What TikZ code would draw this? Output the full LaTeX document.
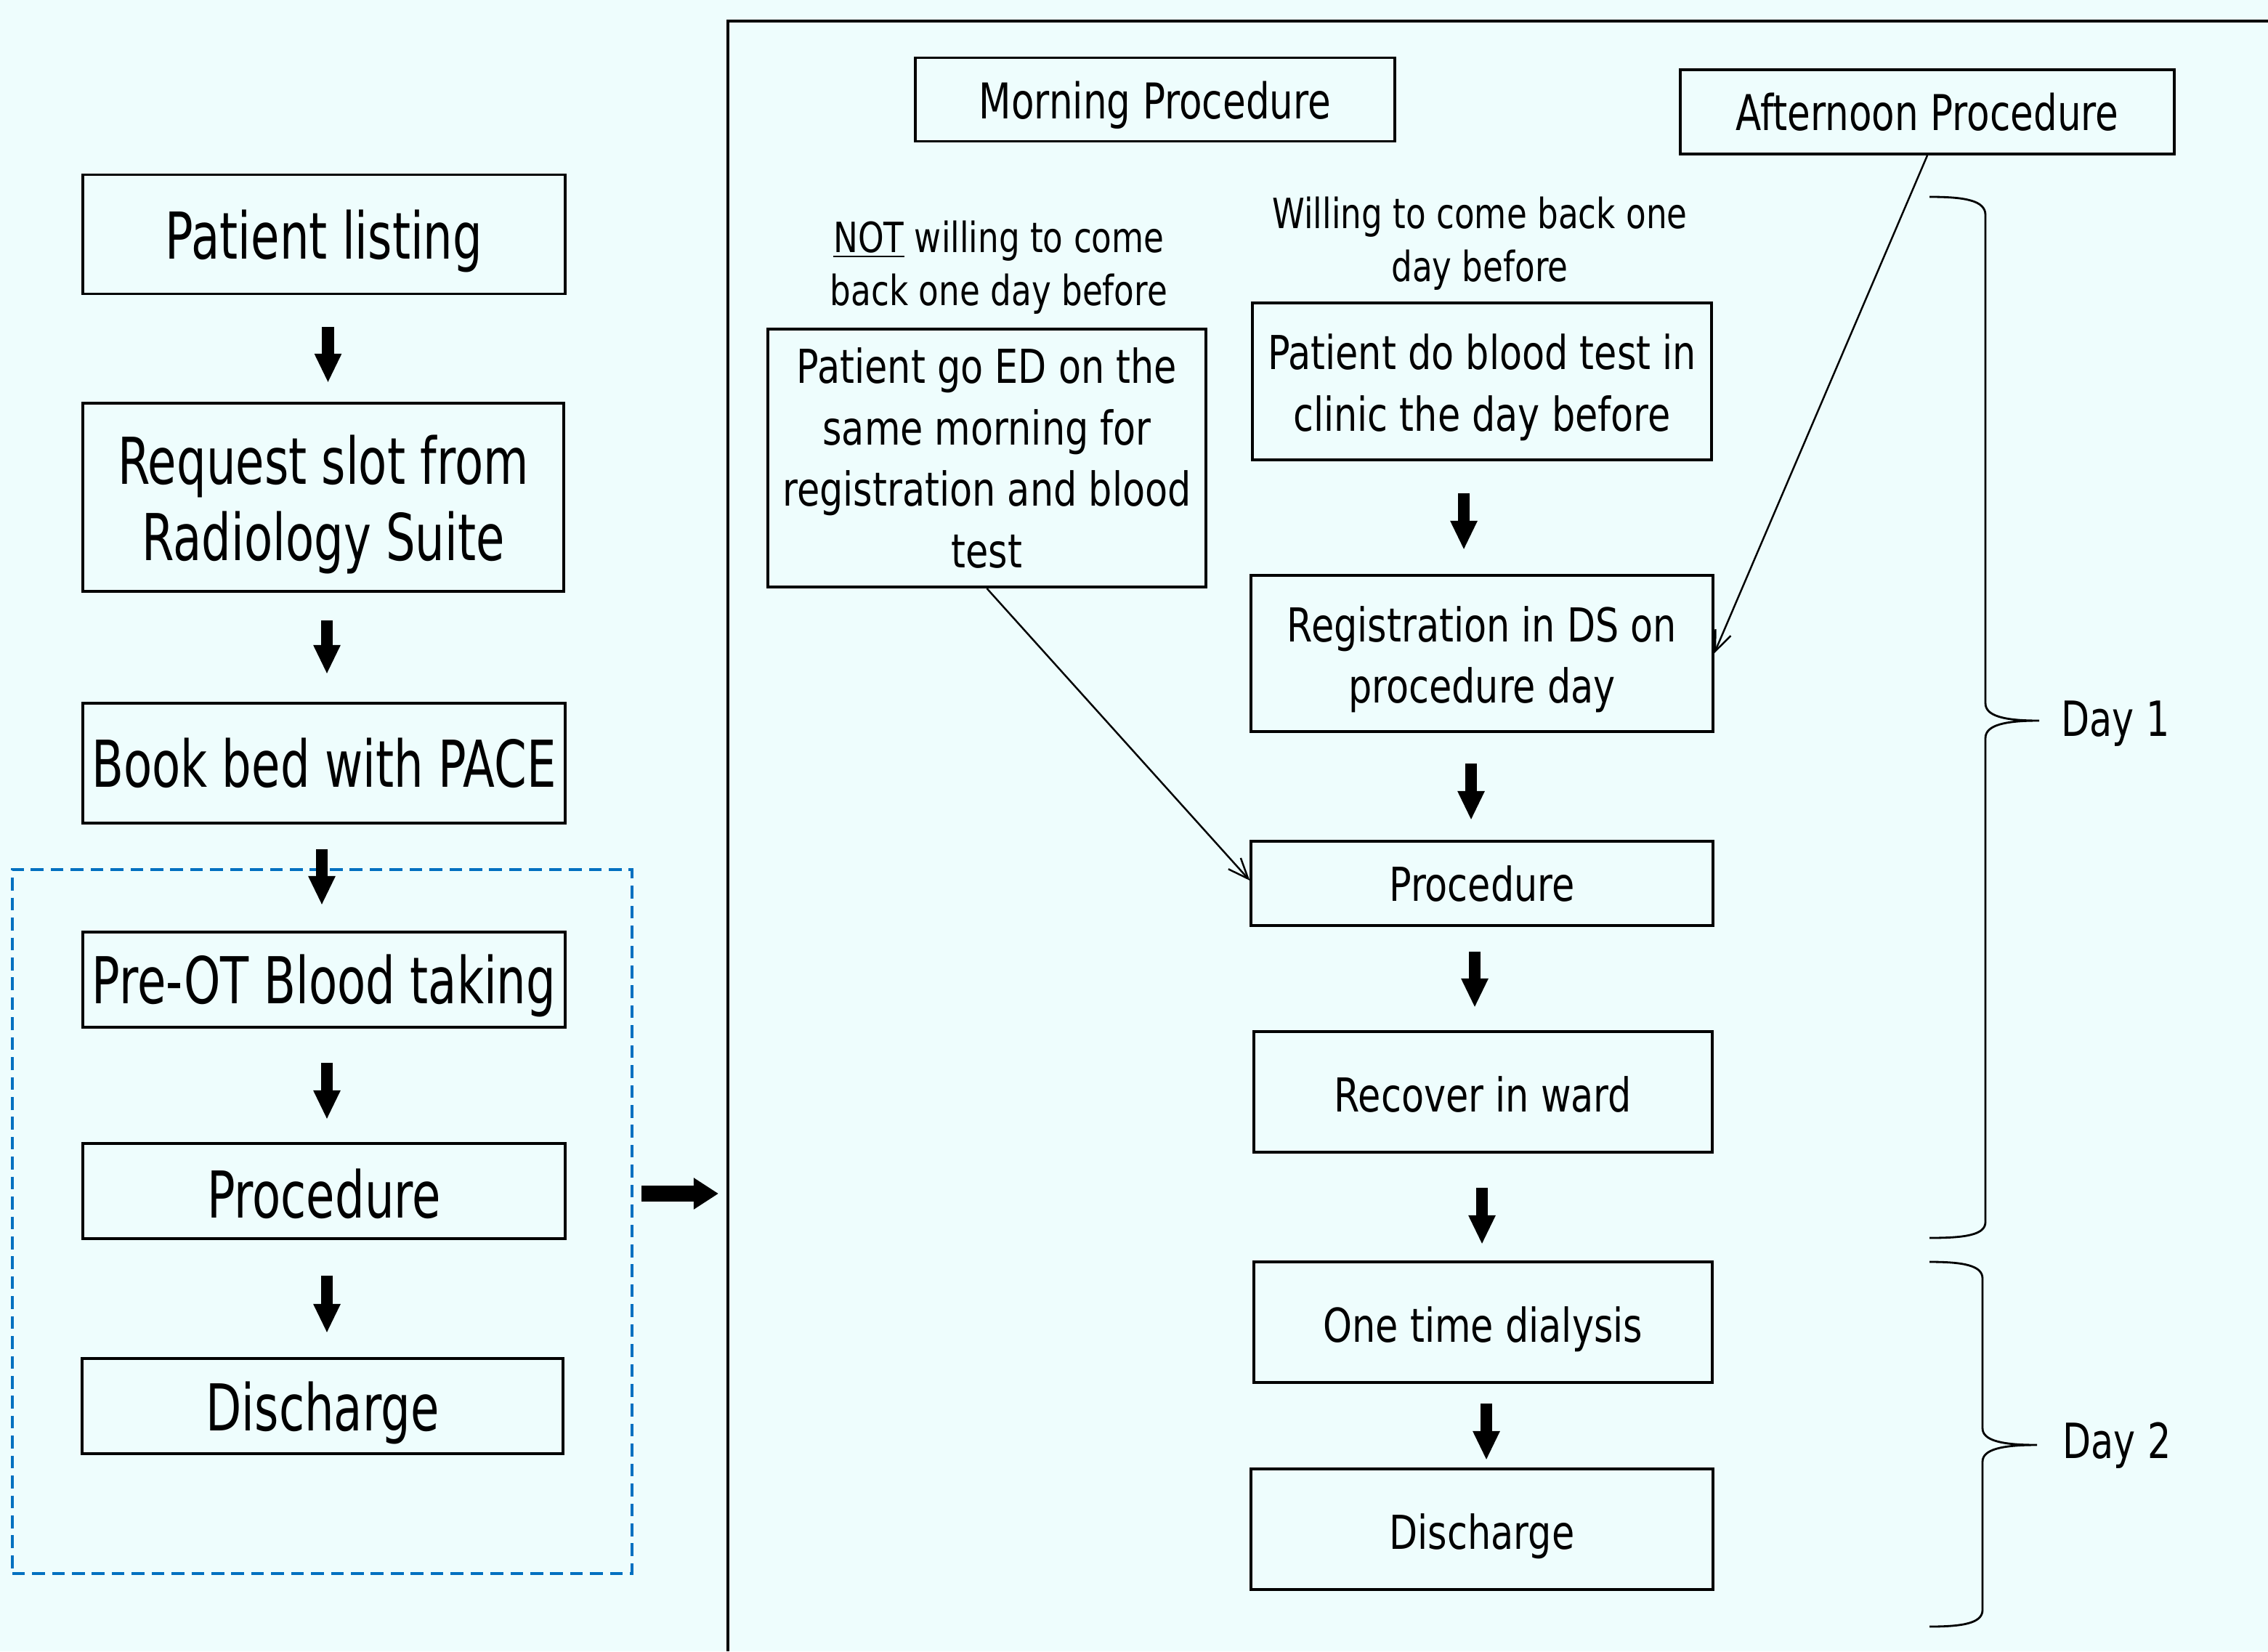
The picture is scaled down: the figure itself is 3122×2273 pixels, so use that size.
\documentclass[tikz,border=0pt]{standalone}
\usepackage{fontspec}
\setmainfont{DejaVu Sans}[FakeStretch=0.72]
\newfontfamily\rfont{DejaVu Sans}[FakeStretch=0.79]
\newfontfamily\hfont{DejaVu Sans}[FakeStretch=0.76]
\newcommand\lowr[2]{\raisebox{-#1}[\height][\depth]{#2}}
\usetikzlibrary{arrows.meta,calc}
\definecolor{bgc}{RGB}{238,253,253}
\definecolor{dashblue}{RGB}{0,112,192}
\begin{document}
\begin{tikzpicture}[x=0.01cm,y=-0.01cm,
  box/.style={draw, line width=1.1pt, inner sep=1pt, align=center},
  bigbox/.style={box, font=\fontsize{25.3}{30}\selectfont},
  rbox/.style={box, font=\rfont\fontsize{18.3}{24}\selectfont},
  hdbox/.style={box, font=\hfont\fontsize{19.3}{24}\selectfont},
  lbl/.style={align=center, inner sep=0pt, font=\rfont\fontsize{16.3}{20.7}\selectfont},
  daylbl/.style={inner sep=0pt, font=\hfont\fontsize{19}{24}\selectfont},
  blkarrow/.style={line width=4.6pt, -{Triangle[length=11.4pt,width=9.8pt]}},
  bigarrow/.style={line width=6pt, -{Triangle[length=9.7pt,width=11.7pt]}},
  thinarrow/.style={line width=0.7pt, -{Straight Barb[length=8pt,width=6.5pt]}},
  bracestyle/.style={line width=0.8pt},
  frame/.style={line width=1.1pt}
]
\fill[bgc] (0,0) rectangle (3122,2273);
\useasboundingbox (0,0) rectangle (3122,2273);

% ---------- left column ----------
\node[bigbox, minimum width=6.64cm, minimum height=1.64cm] (pl) at (446,322.5) {\lowr{2.8pt}{Patient listing}};
\node[bigbox, minimum width=6.62cm, minimum height=2.59cm] (rs) at (445,684.5) {\lowr{2.8pt}{Request slot from}\\\lowr{2.8pt}{Radiology Suite}};
\node[bigbox, minimum width=6.64cm, minimum height=1.65cm] (bb) at (446,1050.5) {Book bed with PACE};
\node[bigbox, minimum width=6.64cm, minimum height=1.31cm] (po) at (446,1348.5) {\lowr{2.3pt}{Pre-OT Blood taking}};
\node[bigbox, minimum width=6.64cm, minimum height=1.31cm] (pr) at (446,1639.5) {\lowr{1.1pt}{Procedure}};
\node[bigbox, minimum width=6.62cm, minimum height=1.31cm] (dc) at (444,1935.5) {\lowr{2.8pt}{Discharge}};
\node[draw=dashblue, line width=1.1pt, dash pattern=on 5pt off 2.8pt, minimum width=8.53cm, minimum height=9.69cm, inner sep=0pt] (grp) at (443.5,1681.5) {};

\draw[blkarrow] ($(pl.south)+(5.5,43.5)$) -- ($(rs.north)+(6.5,-26)$);
\draw[blkarrow] ($(rs.south)+(5,38)$) -- ($(bb.north)+(4,-38)$);
\draw[blkarrow] ($(bb.south)+(-3,34)$) -- ($(po.north)+(-3,-35)$);
\draw[blkarrow] ($(po.south)+(4,47)$) -- ($(pr.north)+(4,-31)$);
\draw[blkarrow] ($(pr.south)+(4,49)$) -- ($(dc.north)+(6,-33)$);

% ---------- right frame ----------
\coordinate (rframe) at (1002,1643);
\draw[frame] (3122,29) -- (1002,29) -- (1002,2273);
\draw[bigarrow] ($(grp.east |- rframe)+(11,0)$) -- ($(rframe)+(-13,0)$);

% ---------- right side ----------
\node[hdbox, minimum width=6.59cm, minimum height=1.15cm] (morn) at (1590,137) {\lowr{2.3pt}{Morning Procedure}};
\node[hdbox, minimum width=6.80cm, minimum height=1.16cm] (aft) at (2653,154) {Afternoon Procedure};
\node[lbl] (notl) at (1375,368) {\underline{NOT} willing to come\\back one day before};
\node[lbl] (willl) at (2037,335) {Willing to come back one\\day before};

\node[rbox, minimum width=6.03cm, minimum height=3.55cm] (ed) at (1358.5,630.5) {Patient go ED on the\\same morning for\\registration and blood\\test};
\node[rbox, minimum width=6.32cm, minimum height=2.16cm] (bt) at (2040,525) {\lowr{2.3pt}{Patient do blood test in}\\\lowr{2.3pt}{clinic the day before}};
\node[rbox, minimum width=6.35cm, minimum height=2.15cm] (reg) at (2040,899.5) {\lowr{2.3pt}{Registration in DS on}\\\lowr{2.3pt}{procedure day}};
\node[rbox, minimum width=6.35cm, minimum height=1.16cm] (proc) at (2040,1216) {Procedure};
\node[rbox, minimum width=6.31cm, minimum height=1.66cm] (rec) at (2041.5,1503) {\lowr{1.1pt}{Recover in ward}};
\node[rbox, minimum width=6.31cm, minimum height=1.66cm] (otd) at (2041.5,1820) {\lowr{2.8pt}{One time dialysis}};
\node[rbox, minimum width=6.35cm, minimum height=1.66cm] (dis) at (2040,2105) {\lowr{2.8pt}{Discharge}};

\draw[blkarrow] ($(bt.south)+(-25,44)$) -- ($(reg.north)+(-25,-33)$);
\draw[blkarrow] ($(reg.south)+(-15,42)$) -- ($(proc.north)+(-15,-27)$);
\draw[blkarrow] ($(proc.south)+(-10,34)$) -- ($(rec.north)+(-11.5,-31)$);
\draw[blkarrow] ($(rec.south)+(-1.5,47)$) -- ($(otd.north)+(-1.5,-22)$);
\draw[blkarrow] ($(otd.south)+(4.5,27)$) -- ($(dis.north)+(6,-10)$);

\draw[thinarrow] (ed.south) -- ($(proc.west)+(0,-4)$);
\draw[thinarrow] (aft.south) -- (reg.east);

% ---------- braces ----------
\draw[bracestyle] (2656,271) .. controls (2705,271) and (2733,276) .. (2733,296)
  -- (2733,968) .. controls (2733,986) and (2760,992) .. (2807,992)
  .. controls (2760,992) and (2733,998) .. (2733,1016)
  -- (2733,1682) .. controls (2733,1700) and (2705,1704) .. (2656,1704);
\draw[bracestyle] (2656,1737) .. controls (2703,1737) and (2729,1742) .. (2729,1760)
  -- (2729,1966) .. controls (2729,1983) and (2756,1989) .. (2804,1989)
  .. controls (2756,1989) and (2729,1995) .. (2729,2012)
  -- (2729,2216) .. controls (2729,2234) and (2703,2239) .. (2656,2239);
\node[daylbl] (d1) at (2912,996) {Day 1};
\node[daylbl] (d2) at (2914,1990) {Day 2};
\end{tikzpicture}
\end{document}
